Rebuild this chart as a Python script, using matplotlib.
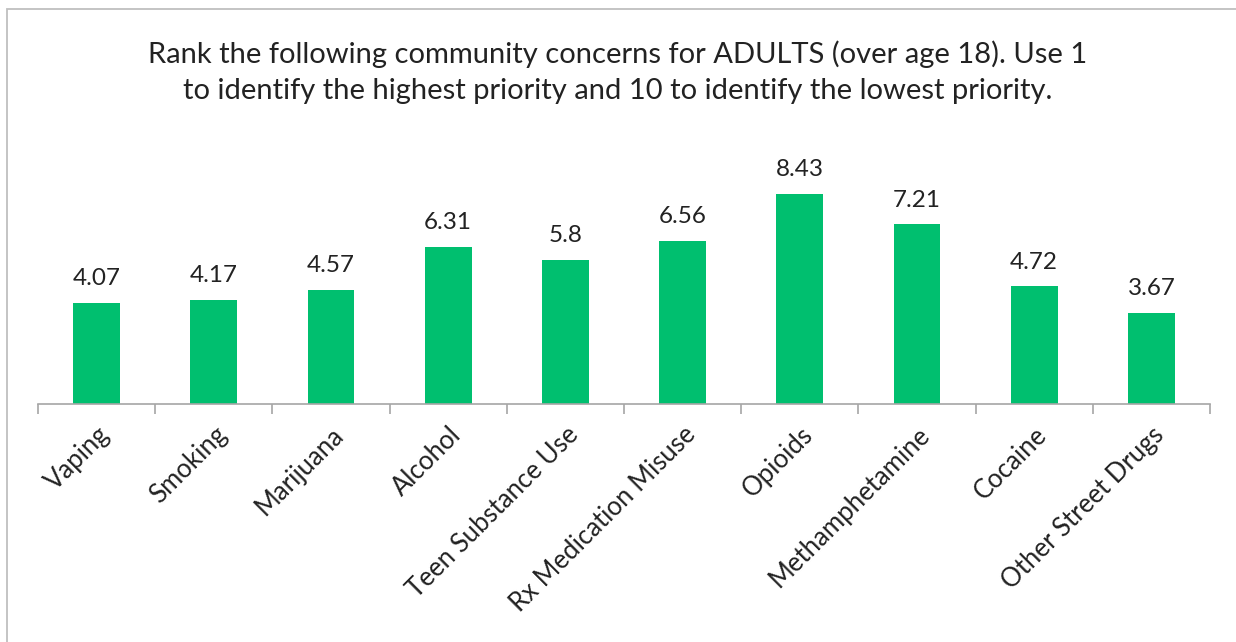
import matplotlib.pyplot as plt
from matplotlib.patches import Rectangle

categories = ["Vaping", "Smoking", "Marijuana", "Alcohol", "Teen Substance Use",
              "Rx Medication Misuse", "Opioids", "Methamphetamine", "Cocaine",
              "Other Street Drugs"]
scores = [4.07, 4.17, 4.57, 6.31, 5.8, 6.56, 8.43, 7.21, 4.72, 3.67]
title = ("Rank the following community concerns for ADULTS (over age 18). Use 1\n"
         "to identify the highest priority and 10 to identify the lowest priority.")

plt.rcParams['font.family'] = ['Lato', 'DejaVu Sans']

fig = plt.figure(figsize=(12.36, 6.42), dpi=100)
ax = fig.add_axes([38 / 1236, 238 / 642, 1172 / 1236, 249 / 642])

# chart frame
fig.patches.append(Rectangle((7 / 1236, -0.05), 1.2, (642 - 9) / 642 + 0.05,
                             transform=fig.transFigure, fill=False,
                             edgecolor='#bfbfbf', linewidth=1.3))

x = range(len(categories))
bars = ax.bar(x, scores, width=0.4, color='#00BF6F')
for b, v in zip(bars, scores):
    ax.annotate(f"{v:g}", (b.get_x() + b.get_width() / 2, v),
                xytext=(0, 10), textcoords='offset points',
                ha='center', va='bottom', fontsize=17.5, color='#222222')

ax.set_xlim(-0.5, len(categories) - 0.5)
ax.set_ylim(0, 10)
for s in ['top', 'right', 'left']:
    ax.spines[s].set_visible(False)
ax.spines['bottom'].set_color('#a6a6a6')
ax.spines['bottom'].set_linewidth(1.2)
ax.set_yticks([])

ax.set_xticks([i - 0.5 for i in range(len(categories) + 1)], minor=False)
ax.set_xticklabels([])
ax.tick_params(axis='x', which='major', length=7, width=1.2, color='#a6a6a6')
ax.set_xticks(list(x), minor=True)
ax.set_xticklabels(categories, minor=True, rotation=45, ha='right',
                   rotation_mode='anchor', fontsize=18.5, color='#222222')
ax.tick_params(axis='x', which='minor', length=0, pad=13)

fig.text(0.5, 0.937, title, ha='center', va='top', fontsize=21,
         color='#222222', linespacing=1.45)

fig.savefig('out.png', dpi=100)
